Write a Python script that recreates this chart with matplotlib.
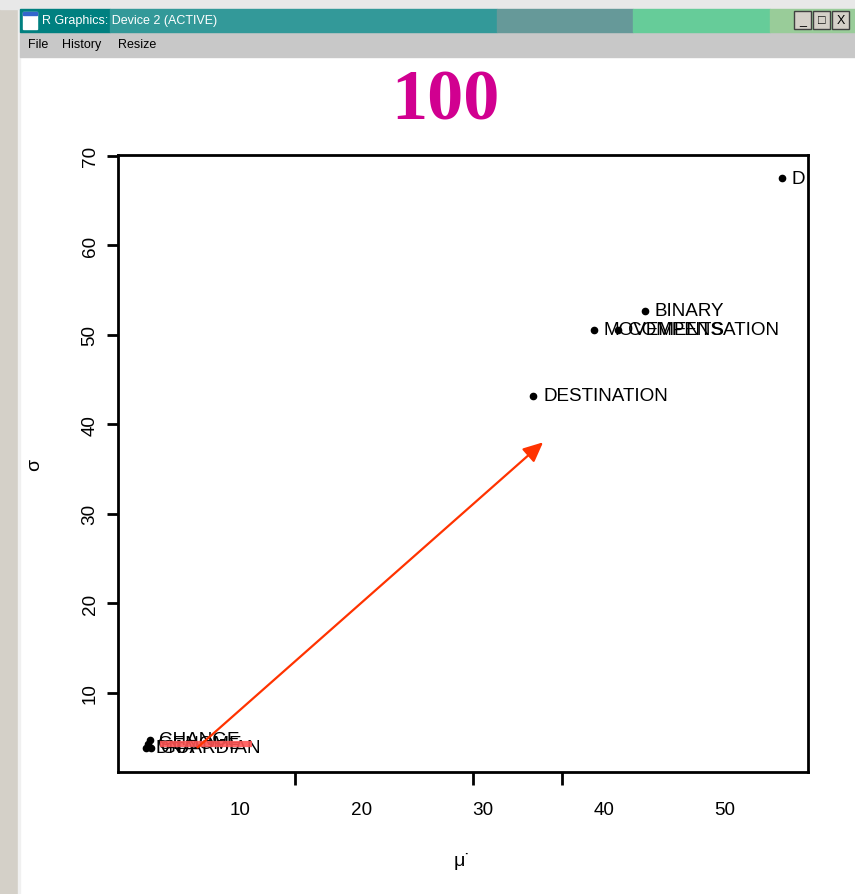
import matplotlib
matplotlib.use("Agg")
import matplotlib.pyplot as plt
from matplotlib.patches import Rectangle

# data
words = ["D", "BINARY", "MOVEMENTS", "COMPENSATION", "DESTINATION",
         "CHANGE", "GENOME", "DNA", "GUARDIAN"]
mu = [54.7, 43.4, 39.2, 41.2, 34.2, 2.55, 2.4, 2.25, 2.65]
sigma = [67.5, 52.7, 50.6, 50.6, 43.2, 4.75, 4.3, 3.85, 3.85]

xticks = [10, 20, 30, 40, 50]
xmarks = [14.5, 29.2, 36.6]   # odd tick marks on bottom axis
yticks = [10, 20, 30, 40, 50, 60, 70]

seg_x = [3.4, 11.0]
seg_y = [4.3, 4.3]
arrow_from = (6.5, 3.9)
arrow_to = (35.0, 38.0)

plt.rcParams['font.family'] = ['Liberation Sans', 'DejaVu Sans']

fig = plt.figure(figsize=(8.55, 8.95), dpi=100)
W, H = 855, 895

# window chrome
bg = fig.add_axes([0, 0, 1, 1], zorder=-10)
bg.set_xlim(0, W)
bg.set_ylim(H, 0)
bg.axis("off")
bg.add_patch(Rectangle((0, 0), W, H, color="white"))
bg.add_patch(Rectangle((0, 0), 18, H, color="#d4d0c8"))
bg.add_patch(Rectangle((18, 0), 2, H, color="#f0f0f0"))
bg.add_patch(Rectangle((0, 0), W, 10, color="#e8e8e8"))
bg.add_patch(Rectangle((20, 33), W - 20, 25, color="#c8c8c8"))
bars = [(20, 110, "#008080"), (110, 497, "#339999"), (497, 633, "#669999"),
        (633, 770, "#66cc99"), (770, 855, "#99cc99")]
for a, b, c in bars:
    bg.add_patch(Rectangle((a, 10), b - a, 23, color=c))
bg.add_patch(Rectangle((23, 13), 14, 17, color="white"))
bg.add_patch(Rectangle((23, 13), 14, 3, color="#3366cc"))
bg.text(42, 21, "R Graphics: Device 2 (ACTIVE)", color="white", fontsize=9,
        va="center", ha="left")
for i, s in enumerate(["_", "□", "X"]):
    bx = 794 + i * 19
    bg.add_patch(Rectangle((bx, 12), 17, 18, facecolor="#d4d0c8",
                           edgecolor="#404040", lw=1))
    bg.text(bx + 8.5, 21, s, fontsize=9, ha="center", va="center")
for x, s in [(28, "File"), (62, "History"), (118, "Resize")]:
    bg.text(x, 45, s, fontsize=9, va="center", ha="left")

fig.text(445 / W, 1 - 102 / H, "100", family=["Liberation Serif", "DejaVu Serif"],
         fontsize=52, fontweight="bold", color="#d10090", ha="center", va="center")

ax = fig.add_axes([118 / W, 1 - 773 / H, 690 / W, 617 / H])
ax.set_xlim(-0.06, 56.85)
ax.set_ylim(1.16, 70.1)
ax.plot(mu, sigma, "o", color="black", ms=4.5, zorder=3)
for w, x, y in zip(words, mu, sigma):
    ax.annotate(w, (x, y), xytext=(7, 0), textcoords="offset points",
                fontsize=13.6, va="center", ha="left", clip_on=True,
                annotation_clip=True)
ax.plot(seg_x, seg_y, color="#ff5555", lw=4.5, alpha=0.9, zorder=4,
        solid_capstyle="butt")
ax.annotate("", xy=arrow_to, xytext=arrow_from,
            arrowprops=dict(arrowstyle="-|>,head_length=1.2,head_width=0.55",
                            color="#ff3300", lw=1.6, shrinkA=0, shrinkB=0),
            zorder=5)

for sp in ax.spines.values():
    sp.set_linewidth(2)
ax.set_xticks(xticks)
ax.set_xticks(xmarks, minor=True)
ax.tick_params(axis="x", which="major", length=0, pad=21, labelsize=13.6)
ax.tick_params(axis="x", which="minor", length=9, width=2)
ax.set_yticks(yticks)
ax.tick_params(axis="y", length=8, width=2, pad=6, labelsize=13.6, labelrotation=90)
for lab in ax.get_yticklabels():
    lab.set_va("center")
ax.set_xlabel("μ˙", fontsize=14, labelpad=24)
ax.set_ylabel("σ", fontsize=14, labelpad=28)

fig.savefig("out.png", dpi=100)
